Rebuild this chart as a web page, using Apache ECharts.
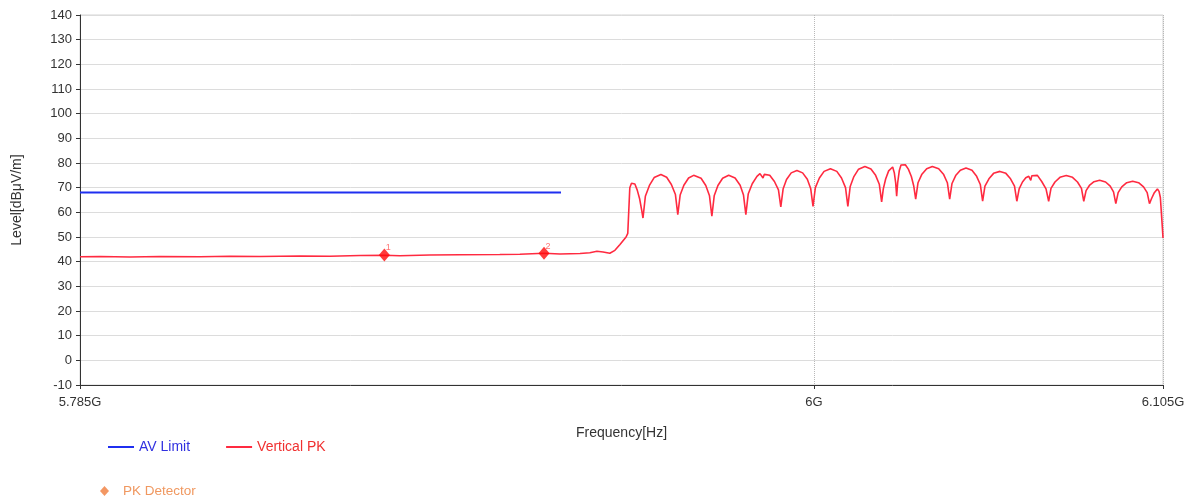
<!DOCTYPE html>
<html>
<head>
<meta charset="utf-8">
<script src="https://cdn.jsdelivr.net/npm/echarts@6/dist/echarts.min.js"></script>
<style>
html,body{margin:0;padding:0;background:#fff;}
#chart{width:1194px;height:503px;}
</style>
</head>
<body>
<div id="chart"></div>
<script>
// Frequency in MHz (x axis is logarithmic), level in dBµV/m
const xTickValues = [5785, 6000, 6105];
const xTickLabels = ['5.785G', '6G', '6.105G'];

const avLimitFreq = [5785, 5925];
const avLimitLevel = [68, 68];

const vpkFreq = [
  5785.0, 5790.8, 5799.4, 5808.0, 5819.6, 5828.3, 5837.0, 5848.6, 5857.3, 5866.1,
  5873.2, 5877.7, 5886.5, 5895.3, 5907.0, 5912.9, 5920.0, 5924.7, 5930.6, 5933.5,
  5935.6, 5937.4, 5939.4, 5940.9, 5942.4, 5944.2, 5944.7,
  5945.3, 5945.8, 5946.2, 5946.8, 5947.5, 5948.2, 5948.8, 5949.2,
  5949.9, 5951.1, 5952.5, 5954.5, 5956.2, 5957.6, 5958.8, 5959.5,
  5960.2, 5961.3, 5962.7, 5964.2, 5966.4, 5967.8, 5968.9, 5969.6,
  5970.3, 5971.4, 5972.8, 5974.6, 5976.5, 5978.0, 5979.0, 5979.7,
  5980.4, 5981.6, 5983.0, 5983.9, 5984.4, 5984.8, 5985.2, 5985.7, 5986.8, 5988.2, 5989.4, 5990.1,
  5990.8, 5991.8, 5993.2, 5994.9, 5996.6, 5998.0, 5999.0, 5999.7,
  6000.4, 6001.6, 6003.0, 6004.9, 6006.8, 6008.2, 6009.4, 6010.1,
  6010.8, 6011.9, 6013.3, 6015.2, 6017.0, 6018.4, 6019.5, 6020.2,
  6020.7, 6021.4, 6022.3, 6023.5, 6024.0, 6024.4, 6024.7,
  6025.0, 6025.5, 6026.0, 6026.5, 6027.3, 6028.2, 6029.1, 6029.8, 6030.4,
  6031.1, 6032.2, 6033.7, 6035.4, 6037.3, 6038.8, 6039.9, 6040.6,
  6041.3, 6042.4, 6043.8, 6045.5, 6047.3, 6048.7, 6049.8, 6050.5,
  6051.2, 6052.4, 6053.8, 6055.7, 6057.5, 6058.9, 6060.1, 6060.8,
  6061.5, 6062.5, 6063.5, 6064.4, 6064.8, 6065.0, 6065.3, 6065.9, 6067.0, 6068.3, 6069.6, 6070.4,
  6071.1, 6072.3, 6073.8, 6075.7, 6077.6, 6079.1, 6080.3, 6081.0,
  6081.7, 6082.7, 6084.1, 6085.8, 6087.6, 6089.0, 6090.0, 6090.7,
  6091.4, 6092.5, 6094.0, 6095.8, 6097.6, 6099.1, 6100.2, 6100.9,
  6101.5, 6102.3, 6103.3, 6103.8, 6104.2, 6104.5, 6104.8, 6105.0
];
const vpkLevel = [
  42.0, 42.1, 41.9, 42.1, 42.0, 42.2, 42.1, 42.3, 42.2, 42.5,
  42.6, 42.4, 42.7, 42.8, 42.9, 43.0, 43.4, 43.1, 43.3, 43.6,
  44.2, 43.9, 43.4, 44.6, 47.0, 50.0, 51.5,
  70.0, 71.8, 72.2, 71.5, 69.0, 65.5, 61.0, 57.7,
  66.5, 70.9, 74.1, 75.3, 74.2, 71.3, 67.2, 59.1,
  67.0, 71.0, 73.9, 75.0, 73.8, 70.9, 66.7, 58.4,
  66.7, 70.9, 73.8, 75.0, 73.9, 71.0, 67.0, 59.1,
  67.4, 71.6, 74.6, 75.7, 75.2, 73.9, 75.4, 76.0, 75.0, 72.5, 69.1, 62.2,
  69.6, 73.3, 76.0, 77.0, 76.0, 73.4, 69.7, 62.4,
  70.0, 73.9, 76.6, 77.7, 76.6, 73.9, 70.0, 62.4,
  70.5, 74.5, 77.5, 78.6, 77.6, 75.0, 71.4, 64.2,
  69.5, 73.5, 76.8, 78.4, 76.0, 72.0, 66.5,
  72.0, 77.0, 79.2, 79.7, 79.3, 77.5, 74.5, 70.8, 65.4,
  72.0, 75.3, 77.7, 78.6, 77.7, 75.3, 72.0, 65.4,
  71.7, 74.9, 77.1, 78.0, 77.1, 74.6, 71.3, 64.5,
  70.6, 73.6, 75.8, 76.6, 75.8, 73.6, 70.6, 64.5,
  69.5, 72.3, 74.0, 74.6, 74.0, 73.0, 74.8, 75.5, 75.0, 72.5, 69.5, 64.5,
  69.7, 72.3, 74.2, 74.9, 74.2, 72.3, 69.7, 64.5,
  68.8, 70.9, 72.4, 73.0, 72.3, 70.6, 68.3, 63.5,
  68.0, 70.3, 72.0, 72.6, 72.0, 70.3, 68.0, 63.5,
  65.5, 67.8, 69.5, 68.5, 66.0, 60.0, 54.0, 49.6
];

const pkFreq = [5873.2, 5920.0];
const pkLevel = [42.7, 43.4];
const pkLabels = ['1', '2'];

const zip = (a, b) => a.map((v, i) => [v, b[i]]);
const FONT = 'Liberation Sans, Arial, sans-serif';

const chart = echarts.init(document.getElementById('chart'), null, {renderer: 'canvas'});
chart.setOption({
  backgroundColor: '#ffffff',
  animation: false,
  textStyle: {fontFamily: FONT},
  grid: {left: 80, right: 31, top: 15, bottom: 118, show: true, borderColor: '#d4d4d4', borderWidth: 1},
  xAxis: {
    type: 'log',
    logBase: 10,
    min: xTickValues[0],
    max: xTickValues[xTickValues.length - 1],
    name: 'Frequency[Hz]',
    nameLocation: 'middle',
    nameGap: 41,
    nameTextStyle: {color: '#333', fontSize: 14, fontFamily: FONT},
    axisLine: {onZero: false, lineStyle: {color: '#333', width: 1}},
    axisTick: {show: true, length: 4, customValues: xTickValues, lineStyle: {color: '#333'}},
    axisLabel: {
      customValues: xTickValues,
      color: '#333', fontSize: 13, fontFamily: FONT, margin: 11,
      formatter: (v) => xTickLabels[xTickValues.indexOf(v)] || ''
    },
    splitLine: {show: true, lineStyle: {color: '#b8b8b8', type: 'dotted', width: 1}}
  },
  yAxis: {
    type: 'value',
    min: -10,
    max: 140,
    interval: 10,
    name: 'Level[dBμV/m]',
    nameLocation: 'middle',
    nameGap: 56,
    nameTextStyle: {color: '#333', fontSize: 14, fontFamily: FONT},
    axisLine: {show: true, onZero: false, lineStyle: {color: '#333', width: 1}},
    axisTick: {show: true, length: 4, lineStyle: {color: '#333'}},
    axisLabel: {color: '#333', fontSize: 13, fontFamily: FONT, margin: 8},
    splitLine: {show: true, lineStyle: {color: '#dcdcdc', width: 1}}
  },
  legend: [
    {
      left: 108, top: 440, padding: 0,
      itemWidth: 26, itemHeight: 2, itemGap: 36,
      icon: 'rect',
      textStyle: {fontSize: 14, fontFamily: FONT},
      data: [
        {name: 'AV Limit', textStyle: {color: '#3030e0'}},
        {name: 'Vertical PK', textStyle: {color: '#f03030'}}
      ]
    },
    {
      left: 100, top: 484, padding: 0,
      itemWidth: 9, itemHeight: 10,
      icon: 'diamond',
      textStyle: {fontSize: 13.5, fontFamily: FONT, padding: [0, 0, 0, 9]},
      data: [
        {name: 'PK Detector', textStyle: {color: '#f09860'}, itemStyle: {color: '#f07d3c'}}
      ]
    }
  ],
  series: [
    {
      name: 'AV Limit', type: 'line', data: zip(avLimitFreq, avLimitLevel),
      showSymbol: false, symbol: 'none',
      lineStyle: {color: '#1f2ff0', width: 2}, itemStyle: {color: '#1f2ff0'}, z: 3
    },
    {
      name: 'Vertical PK', type: 'line', data: zip(vpkFreq, vpkLevel),
      showSymbol: false, symbol: 'none', sampling: null,
      lineStyle: {color: '#ff2a40', width: 1.6}, itemStyle: {color: '#ff2a40'}, z: 2
    },
    {
      name: 'PK Detector', type: 'scatter', data: zip(pkFreq, pkLevel),
      symbol: 'diamond', symbolSize: [11, 13],
      itemStyle: {color: '#ff0a0a'}, z: 4,
      label: {
        show: true, position: [7, -5],
        formatter: (p) => pkLabels[p.dataIndex],
        color: '#ff5050', fontSize: 9, fontFamily: FONT
      }
    }
  ]
});
</script>
</body>
</html>
